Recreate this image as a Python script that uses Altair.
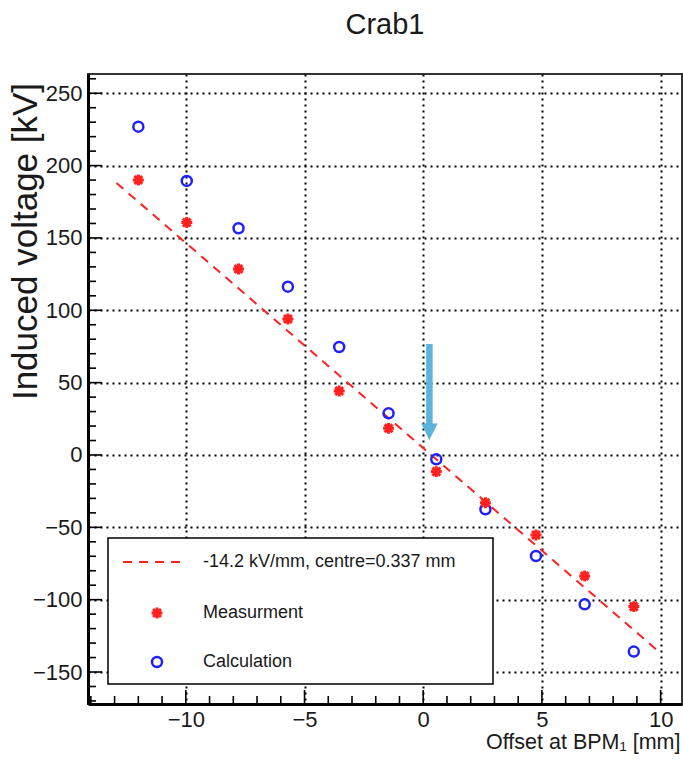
import altair as alt
import pandas as pd

# ---- data ----
offset_mm = [-12.0, -9.96, -7.78, -5.70, -3.54, -1.46, 0.55, 2.62, 4.75, 6.80, 8.87]
measurement_kv = [190.1, 160.6, 128.6, 94.0, 44.2, 18.4, -11.5, -33.0, -55.3, -83.6, -104.8]
calculation_kv = [226.9, 189.4, 156.7, 116.3, 74.6, 28.8, -3.0, -37.5, -69.8, -103.2, -135.9]
fit_x = [-12.92, 9.93]
fit_y = [188.0, -136.0]
arrow_x = [0.26]
arrow_top = [76.7]
arrow_neck = [21.2]
arrow_head = [16.0]
x_major = [-10, -5, 0, 5, 10]
y_major = [-150, -100, -50, 0, 50, 100, 150, 200, 250]
x_minor = [v for v in range(-14, 11) if v % 5 != 0]
y_minor = [v for v in range(-170, 261, 10) if v % 50 != 0]
legend_labels = ["-14.2 kV/mm, centre=0.337 mm", "Measurment", "Calculation"]

FONT = "Liberation Sans"
TXT = "#1a1a1a"
RED = "#ff2020"
BLUE = "#2020ff"
ARROW = "#5bb5d8"
W, H = 594, 630
STAR = "M-1,0L1,0M0,-1L0,1M-0.72,-0.72L0.72,0.72M-0.72,0.72L0.72,-0.72"

xs = alt.Scale(domain=[-14.12, 10.9], nice=False, zero=False)
ys = alt.Scale(domain=[-172.1, 263.3], nice=False, zero=False)

pts = pd.DataFrame({"x": offset_mm, "meas": measurement_kv, "calc": calculation_kv})
fit = pd.DataFrame({"x": fit_x, "y": fit_y})
arr = pd.DataFrame({"x": arrow_x, "top": arrow_top, "neck": arrow_neck, "head": arrow_head})

x_axis = alt.Axis(
    values=x_major, grid=True, gridColor="black", gridDash=[2, 4], gridWidth=2,
    ticks=False, tickSize=0, domain=True, domainColor="black", domainWidth=3,
    labelFont=FONT, labelFontSize=22, labelColor=TXT, labelPadding=5,
    labelFlush=False, labelOverlap=False,
    title="Offset at BPM\u2081 [mm]", titleFont=FONT, titleFontSize=21.5,
    titleFontWeight="normal", titleColor=TXT, titleAlign="right",
    titleBaseline="alphabetic", titleX=592, titleY=44,
)
y_axis = alt.Axis(
    values=y_major, grid=True, gridColor="black", gridDash=[2, 4], gridWidth=2,
    ticks=False, tickSize=0, domain=True, domainColor="black", domainWidth=3,
    labelFont=FONT, labelFontSize=22, labelColor=TXT, labelPadding=6,
    labelOverlap=False,
    title="Induced voltage [kV]", titleFont=FONT, titleFontSize=35,
    titleFontWeight="normal", titleColor=TXT, titleAngle=-90,
    titleAlign="center", titleBaseline="alphabetic", titleX=-52, titleY=167,
)


def X(f):
    return alt.X(f, scale=xs, axis=x_axis)


def Y(f):
    return alt.Y(f, scale=ys, axis=y_axis)


fit_layer = alt.Chart(fit).mark_line(color=RED, strokeDash=[9, 7], strokeWidth=2).encode(
    x=X("x:Q"), y=Y("y:Q"))

calc_layer = alt.Chart(pts).mark_point(
    shape="circle", filled=False, color=BLUE, size=100, strokeWidth=2.5, opacity=1
).encode(x=X("x:Q"), y=Y("calc:Q"))

meas_layer = alt.Chart(pts).mark_point(
    shape=STAR, filled=False, color=RED, size=120, strokeWidth=3, opacity=1
).encode(x=X("x:Q"), y=Y("meas:Q"))

arrow_shaft = alt.Chart(arr).mark_rule(color=ARROW, strokeWidth=6.5).encode(
    x=X("x:Q"), y=Y("top:Q"), y2="neck:Q")
arrow_tip = alt.Chart(arr).mark_point(
    shape="M-1,-1L1,-1L0,1Z", filled=True, color=ARROW, size=270, opacity=1
).encode(x=X("x:Q"), y=Y("head:Q"))

# inward ticks (ROOT style)
y_maj_t = alt.Chart(pd.DataFrame({"v": y_major})).mark_rule(color="black", strokeWidth=1.6).encode(
    y=Y("v:Q"), x=alt.value(0), x2=alt.value(14))
y_min_t = alt.Chart(pd.DataFrame({"v": y_minor})).mark_rule(color="black", strokeWidth=1.6).encode(
    y=Y("v:Q"), x=alt.value(0), x2=alt.value(8))
x_maj_t = alt.Chart(pd.DataFrame({"v": x_major})).mark_rule(color="black", strokeWidth=1.6).encode(
    x=X("v:Q"), y=alt.value(H), y2=alt.value(H - 14))
x_min_t = alt.Chart(pd.DataFrame({"v": x_minor})).mark_rule(color="black", strokeWidth=1.6).encode(
    x=X("v:Q"), y=alt.value(H), y2=alt.value(H - 8))

# legend box
one = pd.DataFrame({"a": [0]})
leg_box = alt.Chart(one).mark_rect(fill="white", stroke="black", strokeWidth=1.5).encode(
    x=alt.value(20), x2=alt.value(405), y=alt.value(464), y2=alt.value(610))
leg_line = alt.Chart(one).mark_rule(color=RED, strokeDash=[9, 7], strokeWidth=2).encode(
    x=alt.value(35), x2=alt.value(97), y=alt.value(488))
leg_star = alt.Chart(one).mark_point(
    shape=STAR, filled=False, color=RED, size=120, strokeWidth=3, opacity=1
).encode(x=alt.value(69), y=alt.value(539))
leg_circ = alt.Chart(one).mark_point(
    shape="circle", filled=False, color=BLUE, size=100, strokeWidth=2.5, opacity=1
).encode(x=alt.value(69), y=alt.value(588))

leg_texts = []
for lab, yy in zip(legend_labels, [488, 539, 588]):
    leg_texts.append(
        alt.Chart(pd.DataFrame({"t": [lab]})).mark_text(
            align="left", baseline="middle", font=FONT, fontSize=18, color=TXT
        ).encode(text="t:N", x=alt.value(115), y=alt.value(yy))
    )

chart = alt.layer(
    fit_layer, calc_layer, meas_layer, arrow_shaft, arrow_tip,
    y_maj_t, y_min_t, x_maj_t, x_min_t,
    leg_box, leg_line, leg_star, leg_circ, *leg_texts,
).properties(
    width=W, height=H,
    padding={"left": 88, "top": 74, "right": 1, "bottom": 57},
    autosize=alt.AutoSizeParams(type="none"),
    title=alt.TitleParams(
        text="Crab1", font=FONT, fontSize=29, fontWeight="normal", color=TXT,
        anchor="middle", frame="group", offset=34,
    ),
).configure_view(stroke="#333333", strokeWidth=2)

chart.save("out.html", embed_options={"renderer": "svg", "actions": False})
